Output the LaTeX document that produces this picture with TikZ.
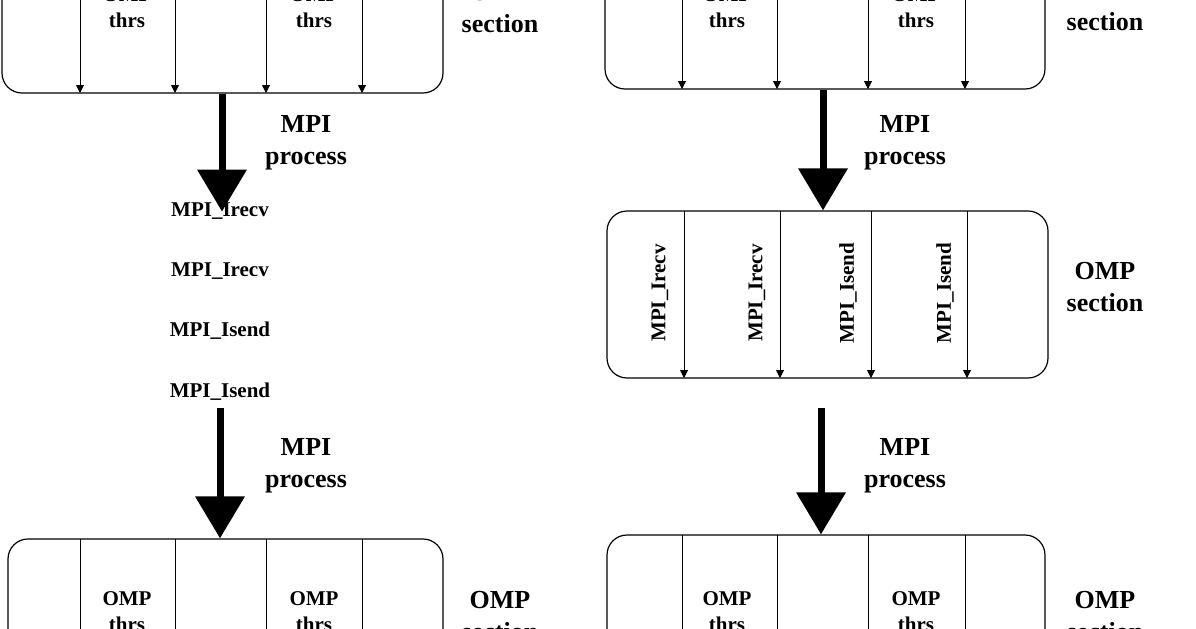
\documentclass[tikz,border=0pt]{standalone}
\usepackage{fontspec}
\setmainfont{Liberation Serif}
\usetikzlibrary{arrows.meta}
\tikzset{
  box/.style={draw, rounded corners=10pt, line width=0.6pt, inner sep=0pt},
  thr/.style={line width=0.5pt, -{Triangle[length=4pt,width=4pt]}},
  sep/.style={line width=0.5pt},
  flow/.style={line width=3.5pt, -{Triangle[length=21pt,width=24pt]}},
  lbl/.style={font=\bfseries\fontsize{13}{16}\selectfont, align=center},
  small/.style={font=\bfseries\fontsize{10.5}{13}\selectfont, align=center},
}
\begin{document}
\begin{tikzpicture}[x=0.5pt, y=-0.5pt]
  \useasboundingbox (0,0) rectangle (1196,628);
  \clip (0,0) rectangle (1196,628);

  % left column
  \node[box, minimum width=220.5pt, minimum height=86.5pt] (lt) at (222.5,6.5) {};
  \foreach \x in {80,175,266,362} \draw[thr] (\x,-80) -- (\x,93);
  \node[small] at (127,8) {OMP\\thrs};
  \node[small] at (314,8) {OMP\\thrs};
  \node[lbl] at (500,8) {OMP\\section};

  \node[small] (ir1) at (220,211) {MPI\_Irecv};
  \node[small] (ir2) at (220,271) {MPI\_Irecv};
  \node[small] (is1) at (220,331) {MPI\_Isend};
  \node[small] (is2) at (220,392) {MPI\_Isend};
  \draw[flow] (lt.south -| ir1) ++(2,0) -- ++(0,118);
  \node[lbl] at (306,143) {MPI\\process};

  \node[box, minimum width=217.5pt, minimum height=90pt] (lb) at (225.5,629) {};
  \draw[flow] (is2.south) -- (lb.north -| is2);
  \node[lbl] at (306,466) {MPI\\process};
  \foreach \x in {80,175,266,362} \draw[sep] (\x,539) -- (\x,719);
  \node[small] at (127,612) {OMP\\thrs};
  \node[small] at (314,612) {OMP\\thrs};
  \node[lbl] at (500,616) {OMP\\section};

  % right column
  \node[box, minimum width=220pt, minimum height=84.5pt] (rt) at (825,4.5) {};
  \foreach \x in {682,777,868,965} \draw[thr] (\x,-80) -- (\x,89);
  \node[small] at (727,8) {OMP\\thrs};
  \node[small] at (916,8) {OMP\\thrs};
  \node[lbl] at (1105,6) {OMP\\section};

  \node[box, minimum width=220.5pt, minimum height=83.5pt] (rm) at (827.5,294.5) {};
  \draw[flow] (rt.south -| 823,0) -- (rm.north -| 823,0);
  \node[lbl] at (905,143) {MPI\\process};
  \foreach \x/\t/\p in {684/MPI\_Irecv/660, 780/MPI\_Irecv/757, 871/MPI\_Isend/848, 967/MPI\_Isend/945}{
    \draw[thr] (\x,211) -- (\x,378);
    \node[small, rotate=90] at (\p,293) {\t};
  }
  \node[lbl] at (1105,287) {OMP\\section};

  \node[box, minimum width=219pt, minimum height=92pt] (rb) at (826,627) {};
  \draw[flow] (821,408) -- (rb.north -| 821,0);
  \node[lbl] at (905,466) {MPI\\process};
  \foreach \x in {682,777,868,965} \draw[sep] (\x,535) -- (\x,719);
  \node[small] at (727,612) {OMP\\thrs};
  \node[small] at (916,612) {OMP\\thrs};
  \node[lbl] at (1105,616) {OMP\\section};
\end{tikzpicture}
\end{document}
